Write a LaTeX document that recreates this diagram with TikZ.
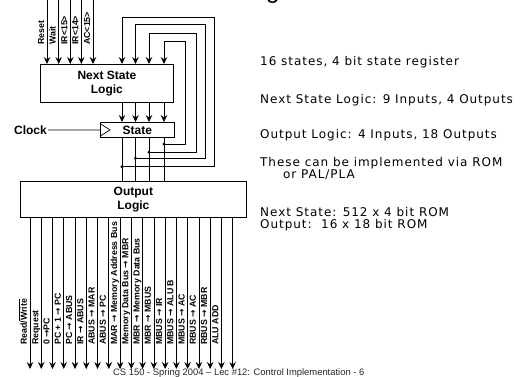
\documentclass[tikz,border=0pt]{standalone}
\usepackage{fontspec}
\setmainfont{Liberation Sans}
\newfontfamily\handfont[LetterSpace=8]{DejaVu Sans}
\newfontfamily\arrowfont{DejaVu Sans}
\newcommand{\ra}{{\arrowfont\bfseries →}}
\usetikzlibrary{arrows.meta,calc}
\tikzset{
  wire/.style={line width=0.7pt},
  arr/.style={wire,-{Stealth[length=7pt,width=6.5pt,inset=2.5pt]}},
  blockbox/.style={draw,line width=0.8pt,align=center,inner sep=0pt,anchor=north west,
    font=\bfseries\fontsize{12}{14}\selectfont},
  sig/.style={rotate=90,anchor=base west,inner sep=0pt,font=\bfseries\fontsize{8.8}{9}\selectfont},
  note/.style={anchor=base west,inner sep=0pt,font=\handfont\fontsize{12}{12}\selectfont},
  dotj/.style={fill=black}
}
\begin{document}
\begin{tikzpicture}[x=1pt,y=1pt]
\useasboundingbox (0,0) rectangle (527,-377);

% partial title glyph at top
\node[anchor=base west,inner sep=0pt,font=\fontsize{24}{24}\selectfont] (title) at (266,1) {g};

% blocks
\node[blockbox,minimum width=133pt,minimum height=38pt] (nsl) at (40,-64) {Next State\\Logic};
\node[blockbox,minimum width=74pt,minimum height=15pt] (st) at (100,-122) {State};
\node[blockbox,minimum width=226pt,minimum height=36pt] (ol) at (20,-181) {Output\\Logic};

% clock
\draw[wire] ($(st.north west)+(0,-1.5)$) -- ($(st.west)+(10,0)$) -- ($(st.south west)+(0,1.5)$);
\node[anchor=east,inner sep=1pt,font=\bfseries\fontsize{12}{14}\selectfont] (clk) at (48,-130) {Clock};
\draw[wire] (clk.east) -- (st.west);

% inputs
\foreach \x/\t [count=\i] in {47/Reset,58.7/Wait,70.3/IR<15>,81.3/IR<14>,93/AC<15>}{
  \coordinate (in\i) at (\x,0);
  \draw[arr] (in\i) -- (in\i |- nsl.north);
  \node[sig] (inl\i) at (\x-3,-45) {\t};
}

% state bits and feedback
\foreach \x/\r/\t/\b [count=\i] in {122/214/17.5/166.7,135.5/205/24.3/158.3,149/196.7/33.3/152.3,164/185.7/41/144}{
  \coordinate (tap\i) at (\x,-\b);
  \coordinate (ft\i) at (\x,-\t);
  \draw[arr] (\x,0 |- nsl.south) -- (\x,0 |- st.north);
  \draw[wire] (\x,0 |- st.south) -- (\x,0 |- ol.north);
  \draw[arr] (tap\i) -- (\r,-\b) -- (\r,-\t) -- (ft\i) -- (ft\i |- nsl.north);
  \fill[dotj] (tap\i) circle (1.6);
}

% outputs
\foreach \t [count=\i] in {Read/$\overline{\mbox{Write}}$,Request,0 \ra PC,PC + 1 \ra\ PC,PC \ra\ ABUS,IR \ra\ ABUS,
  ABUS \ra\ MAR,ABUS \ra\ PC,MAR \ra\ Memory Address Bus,Memory Data Bus \ra\ MBR,MBR \ra\ Memory Data Bus,
  MBR \ra\ MBUS,MBUS \ra\ IR,MBUS \ra\ ALU B,MBUS \ra\ AC,RBUS \ra\ AC,RBUS \ra\ MBR,ALU ADD,{}}{
  \pgfmathsetmacro\xx{30+11.26*(\i-1)}
  \coordinate (out\i) at (\xx,-369);
  \draw[arr] (out\i |- ol.south) -- (out\i);
  \node[sig] (outl\i) at (\xx-3,-345) {\t};
}

% notes
\node[note] (n1) at (260,-66) {16 states, 4 bit state register};
\node[note] (n2) at (260,-104) {Next State Logic: 9 Inputs, 4 Outputs};
\node[note] (n3) at (260,-139) {Output Logic: 4 Inputs, 18 Outputs};
\node[note] (n4) at (260,-166) {These can be implemented via ROM};
\node[note] (n5) at (283,-178) {or PAL/PLA};
\node[note] (n6) at (260,-216) {Next State: 512 x 4 bit ROM};
\node[note] (n7) at (260,-228) {Output:\ \ 16 x 18 bit ROM};

% footer
\node[anchor=base west,inner sep=0pt,font=\fontsize{9.4}{10}\selectfont,text=black!85] (foot) at (113,-375)
  {CS 150 - Spring 2004 – Lec \#12: Control Implementation - 6};
\end{tikzpicture}
\end{document}
